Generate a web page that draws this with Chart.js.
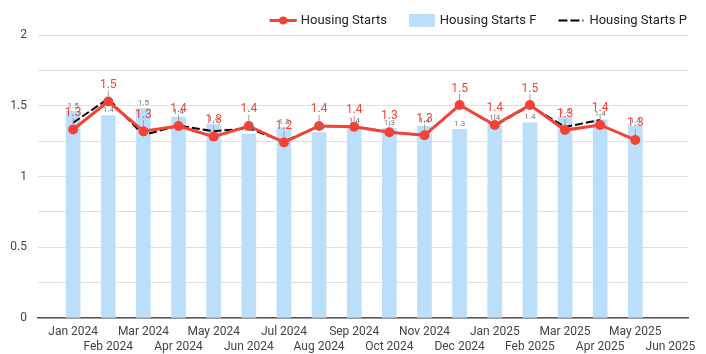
<!DOCTYPE html>
<html>
<head>
<meta charset="utf-8">
<script src="https://cdn.jsdelivr.net/npm/chart.js@4"></script>
<style>
  html, body { margin: 0; padding: 0; background: #fff; }
</style>
</head>
<body>
<canvas id="startsChart" width="706" height="354"></canvas>
<script>
const months = [
  "Jan 2024", "Feb 2024", "Mar 2024", "Apr 2024", "May 2024", "Jun 2024",
  "Jul 2024", "Aug 2024", "Sep 2024", "Oct 2024", "Nov 2024", "Dec 2024",
  "Jan 2025", "Feb 2025", "Mar 2025", "Apr 2025", "May 2025", "Jun 2025",
];
const housingStarts = [
  1.332, 1.53, 1.32, 1.357, 1.282, 1.357, 1.241, 1.357, 1.352, 1.313, 1.291,
  1.505, 1.364, 1.505, 1.328, 1.364, 1.258,
];
const housingStartsF = [
  1.46, 1.43, 1.48, 1.42, 1.37, 1.3, 1.345, 1.31, 1.352, 1.34, 1.355, 1.333,
  1.376, 1.38, 1.42, 1.4, 1.355,
];
const housingStartsP = [
  1.38, 1.55, 1.293, 1.36, 1.32, 1.34, 1.247, 1.357, 1.352, 1.313, 1.291,
  1.505, 1.36, 1.5, 1.35, 1.4,
];

const RED = "#f44336";
const BLUE = "#bbdefb";

const toPoints = (arr) => arr.map((v, i) => ({ x: i, y: v }));

// small value labels: gray ones on the bars, red ones over the actuals
const valueLabels = {
  id: "valueLabels",
  afterDatasetsDraw(chart) {
    const ctx = chart.ctx;
    ctx.save();
    ctx.textAlign = "center";
    ctx.textBaseline = "middle";

    ctx.font = "8px Roboto";
    ctx.fillStyle = "#757575";
    chart.getDatasetMeta(1).data.forEach((bar, i) => {
      ctx.fillText(housingStartsF[i].toFixed(1), bar.x, bar.y - 5.5);
    });

    ctx.font = "12px Roboto";
    chart.getDatasetMeta(0).data.forEach((pt, i) => {
      ctx.strokeStyle = "#9e9e9e";
      ctx.lineWidth = 1;
      ctx.beginPath();
      ctx.moveTo(pt.x, pt.y - 11);
      ctx.lineTo(pt.x, pt.y - 5);
      ctx.stroke();
      ctx.fillStyle = RED;
      ctx.fillText(housingStarts[i].toFixed(1), pt.x, pt.y - 16.5);
    });
    ctx.restore();
  },
};

// legend row, right aligned at the top
const legendRow = {
  id: "legendRow",
  afterDraw(chart) {
    const ctx = chart.ctx;
    const items = [
      { text: "Housing Starts", kind: "line" },
      { text: "Housing Starts F", kind: "box" },
      { text: "Housing Starts P", kind: "dash" },
    ];
    ctx.save();
    ctx.font = "13px Roboto";
    ctx.textBaseline = "middle";
    ctx.textAlign = "left";
    const y = 20.5;
    const widths = items.map((it) => 26 + 5 + ctx.measureText(it.text).width);
    const total = widths.reduce((a, b) => a + b, 0) + 22 * (items.length - 1);
    let x = chart.width - 19 - total;
    items.forEach((it, i) => {
      if (it.kind === "line") {
        ctx.strokeStyle = RED;
        ctx.lineWidth = 3;
        ctx.beginPath();
        ctx.moveTo(x, y);
        ctx.lineTo(x + 27, y);
        ctx.stroke();
        ctx.fillStyle = RED;
        ctx.beginPath();
        ctx.arc(x + 13.5, y, 4, 0, Math.PI * 2);
        ctx.fill();
      } else if (it.kind === "box") {
        ctx.fillStyle = BLUE;
        ctx.fillRect(x, y - 6.5, 26, 13);
      } else {
        ctx.strokeStyle = "#000";
        ctx.lineWidth = 2;
        ctx.setLineDash([9, 3]);
        ctx.beginPath();
        ctx.moveTo(x, y);
        ctx.lineTo(x + 25, y);
        ctx.stroke();
        ctx.setLineDash([]);
      }
      ctx.fillStyle = "#222";
      ctx.fillText(it.text, x + 31, y);
      x += widths[i] + 22;
    });
    ctx.restore();
  },
};

new Chart(document.getElementById("startsChart").getContext("2d"), {
  type: "bar",
  data: {
    datasets: [
      {
        type: "line",
        label: "Housing Starts",
        data: toPoints(housingStarts),
        borderColor: RED,
        backgroundColor: RED,
        borderWidth: 3,
        pointRadius: 5,
        pointBorderWidth: 0,
        tension: 0,
        order: 0,
      },
      {
        type: "bar",
        label: "Housing Starts F",
        data: toPoints(housingStartsF),
        backgroundColor: BLUE,
        barThickness: 14,
        order: 2,
      },
      {
        type: "line",
        label: "Housing Starts P",
        data: toPoints(housingStartsP),
        borderColor: "#000",
        borderWidth: 2,
        borderDash: [8, 3],
        pointRadius: 0,
        tension: 0,
        order: 1,
      },
    ],
  },
  options: {
    responsive: false,
    animation: false,
    layout: {
      padding: { top: 35, left: 10, right: 18, bottom: 0 },
    },
    plugins: {
      legend: { display: false },
      tooltip: { enabled: false },
    },
    scales: {
      x: {
        type: "linear",
        min: -1,
        max: 17.5,
        offset: false,
        grid: { display: false, drawTicks: false },
        border: { display: true, color: "#555", width: 1.5 },
        afterBuildTicks: (axis) => {
          axis.ticks = months.map((m, i) => ({ value: i }));
        },
        afterFit: (axis) => {
          axis.height = 36;
        },
        ticks: {
          autoSkip: false,
          maxRotation: 0,
          minRotation: 0,
          padding: 6,
          color: "#444",
          font: { family: "Roboto", size: 12, lineHeight: 1.25 },
          callback: (value) => {
            const label = months[value];
            if (label === undefined) return "";
            return value % 2 ? ["", label] : label;
          },
        },
      },
      y: {
        min: 0,
        max: 2,
        grid: { color: "#e0e0e0", drawTicks: false },
        border: { display: false },
        afterFit: (axis) => {
          axis.width = 28;
        },
        ticks: {
          stepSize: 0.25,
          autoSkip: false,
          padding: 11,
          color: "#444",
          font: { family: "Roboto", size: 12 },
          callback: (value) => (value % 0.5 === 0 ? String(value) : ""),
        },
      },
    },
  },
  plugins: [valueLabels, legendRow],
});
</script>
</body>
</html>
